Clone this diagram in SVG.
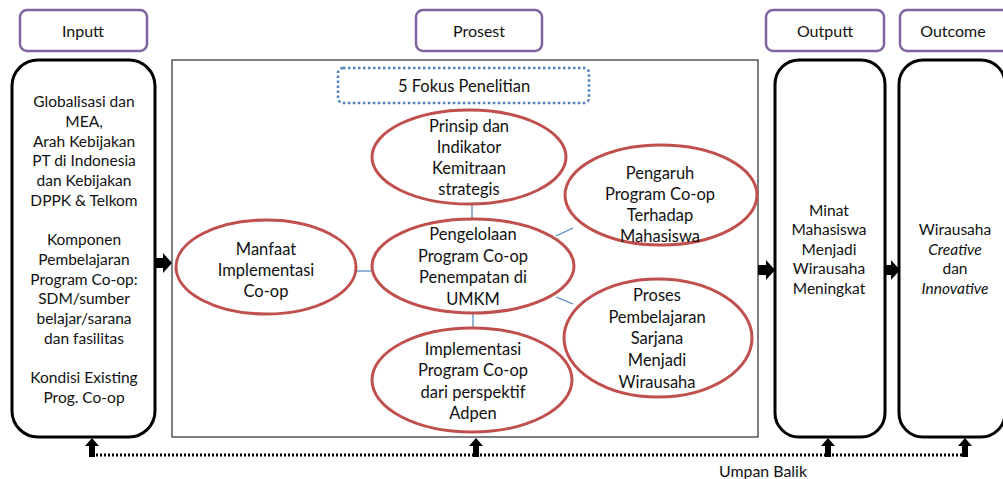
<svg xmlns="http://www.w3.org/2000/svg" width="1003" height="479" viewBox="0 0 1003 479">
<style>
text{font-family:Lato,"Liberation Sans",sans-serif;fill:#111;text-anchor:middle}
.hdr{fill:#fff;stroke:#8064A2;stroke-width:2.5}
.big{fill:#fff;stroke:#000;stroke-width:3}
.ell{fill:#fff;stroke:#C0504D;stroke-width:3}
.lnk{stroke:#4F81BD;stroke-width:1.2;fill:none}
.h{font-size:16px}
.t{font-size:15.5px}
.e{font-size:16.5px}
.arr{fill:#000}
</style>
<rect width="1003" height="479" fill="#fff"/>

<g id="hdr-input"><rect class="hdr" x="20" y="10" width="127" height="41" rx="7"/><text class="h" x="83" y="37">Inputt</text></g>
<g id="hdr-proses"><rect class="hdr" x="416" y="10" width="126" height="41" rx="7"/><text class="h" x="479" y="37">Prosest</text></g>
<g id="hdr-output"><rect class="hdr" x="766" y="10" width="118" height="41" rx="7"/><text class="h" x="825" y="37">Outputt</text></g>
<g id="hdr-outcome"><rect class="hdr" x="900" y="10" width="115" height="41" rx="7"/><text class="h" x="953" y="37">Outcome</text></g>

<g id="input">
<rect class="big" x="12" y="60" width="143" height="377" rx="26"/>
<text class="t"><tspan x="84" y="107">Globalisasi dan</tspan><tspan x="84" y="127">MEA,</tspan><tspan x="84" y="147">Arah Kebijakan</tspan><tspan x="84" y="166">PT di Indonesia</tspan><tspan x="84" y="186">dan Kebijakan</tspan><tspan x="84" y="206">DPPK &amp; Telkom</tspan><tspan x="84" y="245">Komponen</tspan><tspan x="84" y="265">Pembelajaran</tspan><tspan x="84" y="285">Program Co-op:</tspan><tspan x="84" y="304">SDM/sumber</tspan><tspan x="84" y="324">belajar/sarana</tspan><tspan x="84" y="344">dan fasilitas</tspan><tspan x="84" y="383">Kondisi Existing</tspan><tspan x="84" y="403">Prog. Co-op</tspan></text>
</g>

<g id="proses">
<rect x="172" y="60" width="586" height="377" fill="#fff" stroke="#000" stroke-width="1"/>
</g>

<g id="fokus"><rect x="338" y="68" width="251" height="35" rx="5" fill="#fff" stroke="#4F81BD" stroke-width="2.5" stroke-dasharray="2.5 2.5"/><text class="e" x="464" y="92">5 Fokus Penelitian</text></g>

<g id="connectors">
<line class="lnk" x1="472" y1="204" x2="472" y2="220"/>
<line class="lnk" x1="356" y1="271" x2="372" y2="271"/>
<line class="lnk" x1="556" y1="236" x2="573" y2="228"/>
<line class="lnk" x1="556" y1="297" x2="573" y2="304"/>
<line class="lnk" x1="473" y1="313" x2="473" y2="329"/>
<path class="arr" d="M155,258H163V253L172,263L163,273V268H155Z"/>
<path class="arr" d="M758,265H766V260L775,270L766,280V275H758Z"/>
<path class="arr" d="M885,265H891V260L900,270L891,280V275H885Z"/>
<line x1="92" y1="455" x2="965" y2="455" stroke="#000" stroke-width="3" stroke-dasharray="2 2"/>
<path class="arr" d="M89,457V446H85L92,438L99,446H95V457Z"/>
<path class="arr" d="M473,457V446H469L476,438L483,446H479V457Z"/>
<path class="arr" d="M825,457V446H821L828,438L835,446H831V457Z"/>
<path class="arr" d="M962,457V446H958L965,438L972,446H968V457Z"/>
<text x="763" y="477" font-size="15" textLength="88" lengthAdjust="spacingAndGlyphs">Umpan Balik</text>
</g>

<g id="prinsip"><ellipse class="ell" cx="469" cy="157" rx="97" ry="47"/><text class="e"><tspan x="469" y="132">Prinsip dan</tspan><tspan x="469" y="153">Indikator</tspan><tspan x="469" y="174">Kemitraan</tspan><tspan x="469" y="195">strategis</tspan></text></g>
<g id="pengelolaan"><ellipse class="ell" cx="473" cy="266" rx="101" ry="47"/><text class="e"><tspan x="473" y="240">Pengelolaan</tspan><tspan x="473" y="262">Program Co-op</tspan><tspan x="473" y="283">Penempatan di</tspan><tspan x="473" y="305">UMKM</tspan></text></g>
<g id="manfaat"><ellipse class="ell" cx="266" cy="267" rx="90" ry="47"/><text class="e"><tspan x="266" y="255">Manfaat</tspan><tspan x="266" y="276">Implementasi</tspan><tspan x="266" y="297">Co-op</tspan></text></g>
<g id="pengaruh"><ellipse class="ell" cx="661" cy="195" rx="96" ry="50"/><text class="e"><tspan x="660" y="179">Pengaruh</tspan><tspan x="660" y="200">Program Co-op</tspan><tspan x="660" y="221">Terhadap</tspan><tspan x="660" y="242">Mahasiswa</tspan></text></g>
<g id="prosesbel"><ellipse class="ell" cx="658" cy="338" rx="94" ry="59"/><text class="e"><tspan x="657" y="301">Proses</tspan><tspan x="657" y="323">Pembelajaran</tspan><tspan x="657" y="344">Sarjana</tspan><tspan x="657" y="366">Menjadi</tspan><tspan x="657" y="388">Wirausaha</tspan></text></g>
<g id="implementasi"><ellipse class="ell" cx="472" cy="380" rx="100" ry="52"/><text class="e"><tspan x="473" y="355">Implementasi</tspan><tspan x="473" y="376">Program Co-op</tspan><tspan x="473" y="398">dari perspektif</tspan><tspan x="473" y="419">Adpen</tspan></text></g>

<g id="output">
<rect class="big" x="775" y="60" width="110" height="377" rx="24"/>
<text class="t"><tspan x="829" y="216">Minat</tspan><tspan x="829" y="235">Mahasiswa</tspan><tspan x="829" y="255">Menjadi</tspan><tspan x="829" y="274">Wirausaha</tspan><tspan x="829" y="294">Meningkat</tspan></text>
</g>

<g id="outcome">
<rect class="big" x="899" y="60" width="106" height="377" rx="24"/>
<text class="t"><tspan x="955" y="235">Wirausaha</tspan><tspan x="955" y="255" font-style="italic">Creative</tspan><tspan x="955" y="274">dan</tspan><tspan x="955" y="294" font-style="italic">Innovative</tspan></text>
</g>
</svg>
